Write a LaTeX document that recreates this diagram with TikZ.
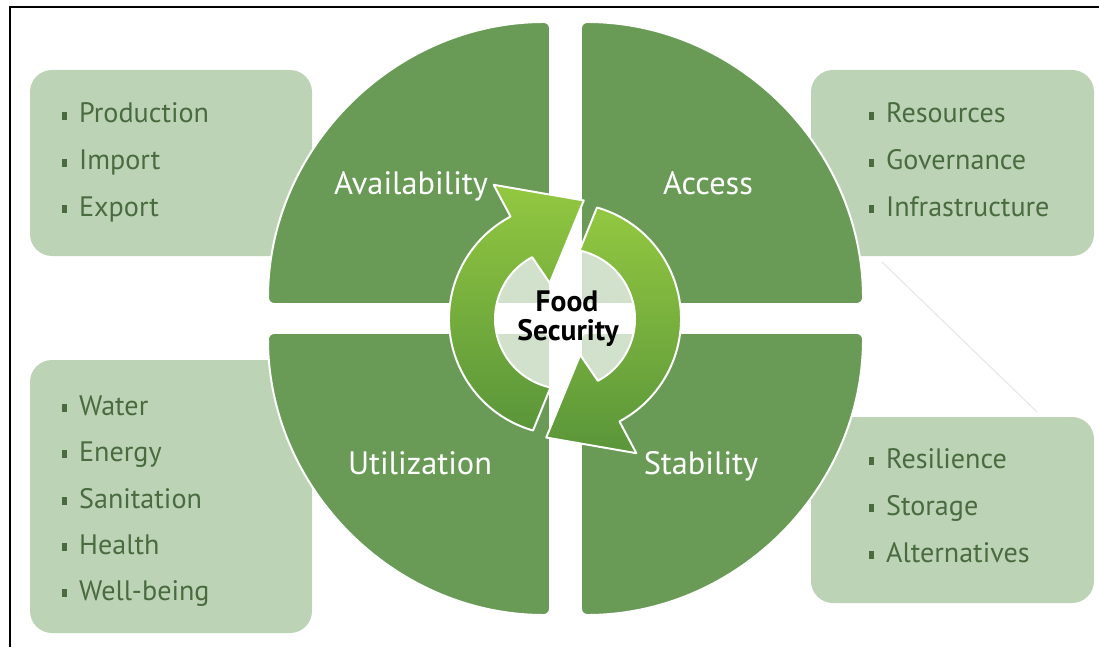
\documentclass[tikz,border=0pt]{standalone}
\usepackage{fontspec}
\setmainfont{PT Sans}
\usetikzlibrary{calc}
\definecolor{quadgreen}{HTML}{699B57}
\definecolor{boxgreen}{HTML}{BCD4B5}
\definecolor{itemgreen}{HTML}{4A6B40}
\definecolor{arrowlight}{HTML}{92C840}
\definecolor{arrowdark}{HTML}{5A953A}
\newcommand{\bul}{\rule[0.1em]{0.18em}{0.29em}\hspace{0.42em}}
\def\cyclearrow[#1](#2)(#3){\shadedraw[#1] ($(#2)+({254+#3}:116)$) arc[start angle={254+#3}, end angle={118+#3}, radius=116] -- ($(#2)+({118+#3}:152)$) -- ($(#2)+({81+#3}:120)$) -- ($(#2)+({113+#3}:39)$) -- ($(#2)+({118+#3}:70)$) arc[start angle={118+#3}, end angle={258+#3}, radius=70] -- cycle;}
\tikzset{
	quadrant/.style={fill=quadgreen, draw=white, line width=1.4pt, rounded corners=0.15cm},
	listbox/.style={fill=boxgreen, rounded corners=0.55cm},
	item/.style={anchor=base west, inner sep=0pt, text=itemgreen, font=\fontsize{20}{22}\selectfont},
	pillar/.style={anchor=base, inner sep=0pt, text=white, font=\fontsize{23}{25}\selectfont},
	centre/.style={anchor=base, inner sep=0pt, font=\fontsize{21}{22}\selectfont\bfseries},
	turn/.style={draw=white, line width=1.4pt, line join=round, top color=arrowlight, bottom color=arrowdark},
}

\begin{document}
\begin{tikzpicture}[x=0.025cm, y=0.025cm]
			%%%%% START %%%%%
			
			\useasboundingbox (0, 0) rectangle (1099, 647);
			\fill[white] (0, 0) rectangle (1099, 647);
			\coordinate (C) at (565, 328);
			
			% side boxes
			\fill[listbox] (30, 391) rectangle (312, 577);
			\fill[listbox] (30, 14) rectangle (312, 287);
			\fill[listbox] (811, 391) rectangle (1094, 577);
			\fill[listbox] (811, 44) rectangle (1094, 230);
			
			\draw[black!9, line width=0.8pt] (882, 385) -- (1037, 235);
			
			% quarters
			\draw[quadrant] (550, 343) -- (268, 343) arc[start angle=180, end angle=90, radius=282] -- cycle;
			\draw[quadrant] (581, 343) -- (581, 625) arc[start angle=90, end angle=0, radius=282] -- cycle;
			\draw[quadrant] (550, 314) -- (268, 314) arc[start angle=180, end angle=270, radius=282] -- cycle;
			\draw[quadrant] (581, 314) -- (863, 314) arc[start angle=0, end angle=-90, radius=282] -- cycle;
			
			\node[pillar] (avail) at (411, 452) {Availability};
			\node[pillar] (access) at (708, 452) {Access};
			\node[pillar] (util) at (420, 173) {Utilization};
			\node[pillar] (stab) at (701, 173) {Stability};
			
			% centre
			\fill[white, opacity=0.7] (C) circle[radius=71];
			\cyclearrow[turn](C)(0);
			\cyclearrow[turn](C)(180);
			\node[centre] (food) at (567, 336) {Food};
			\node[centre] (secur) at (568, 307) {Security};
			
			% lists
			\node[item] (prod) at (62, 524) {\bul Production};
			\node[item] (imp) at (62, 477.5) {\bul Import};
			\node[item] (exp) at (62, 431) {\bul Export};
			
			\node[item] (water) at (62, 232) {\bul Water};
			\node[item] (energy) at (62, 186) {\bul Energy};
			\node[item] (sanit) at (62, 139) {\bul Sanitation};
			\node[item] (health) at (62, 93) {\bul Health};
			\node[item] (well) at (62, 47) {\bul Well-being};
			
			\node[item] (res) at (869, 524) {\bul Resources};
			\node[item] (gov) at (869, 477.5) {\bul Governance};
			\node[item] (infra) at (869, 431) {\bul Infrastructure};
			
			\node[item] (resil) at (869, 179) {\bul Resilience};
			\node[item] (store) at (869, 132) {\bul Storage};
			\node[item] (alt) at (869, 85) {\bul Alternatives};
			
			\draw[line width=0.05cm] (10, 0) -- (10, 639.5) -- (1099, 639.5);
			
			%%%%% END %%%%%
\end{tikzpicture}
\end{document}
